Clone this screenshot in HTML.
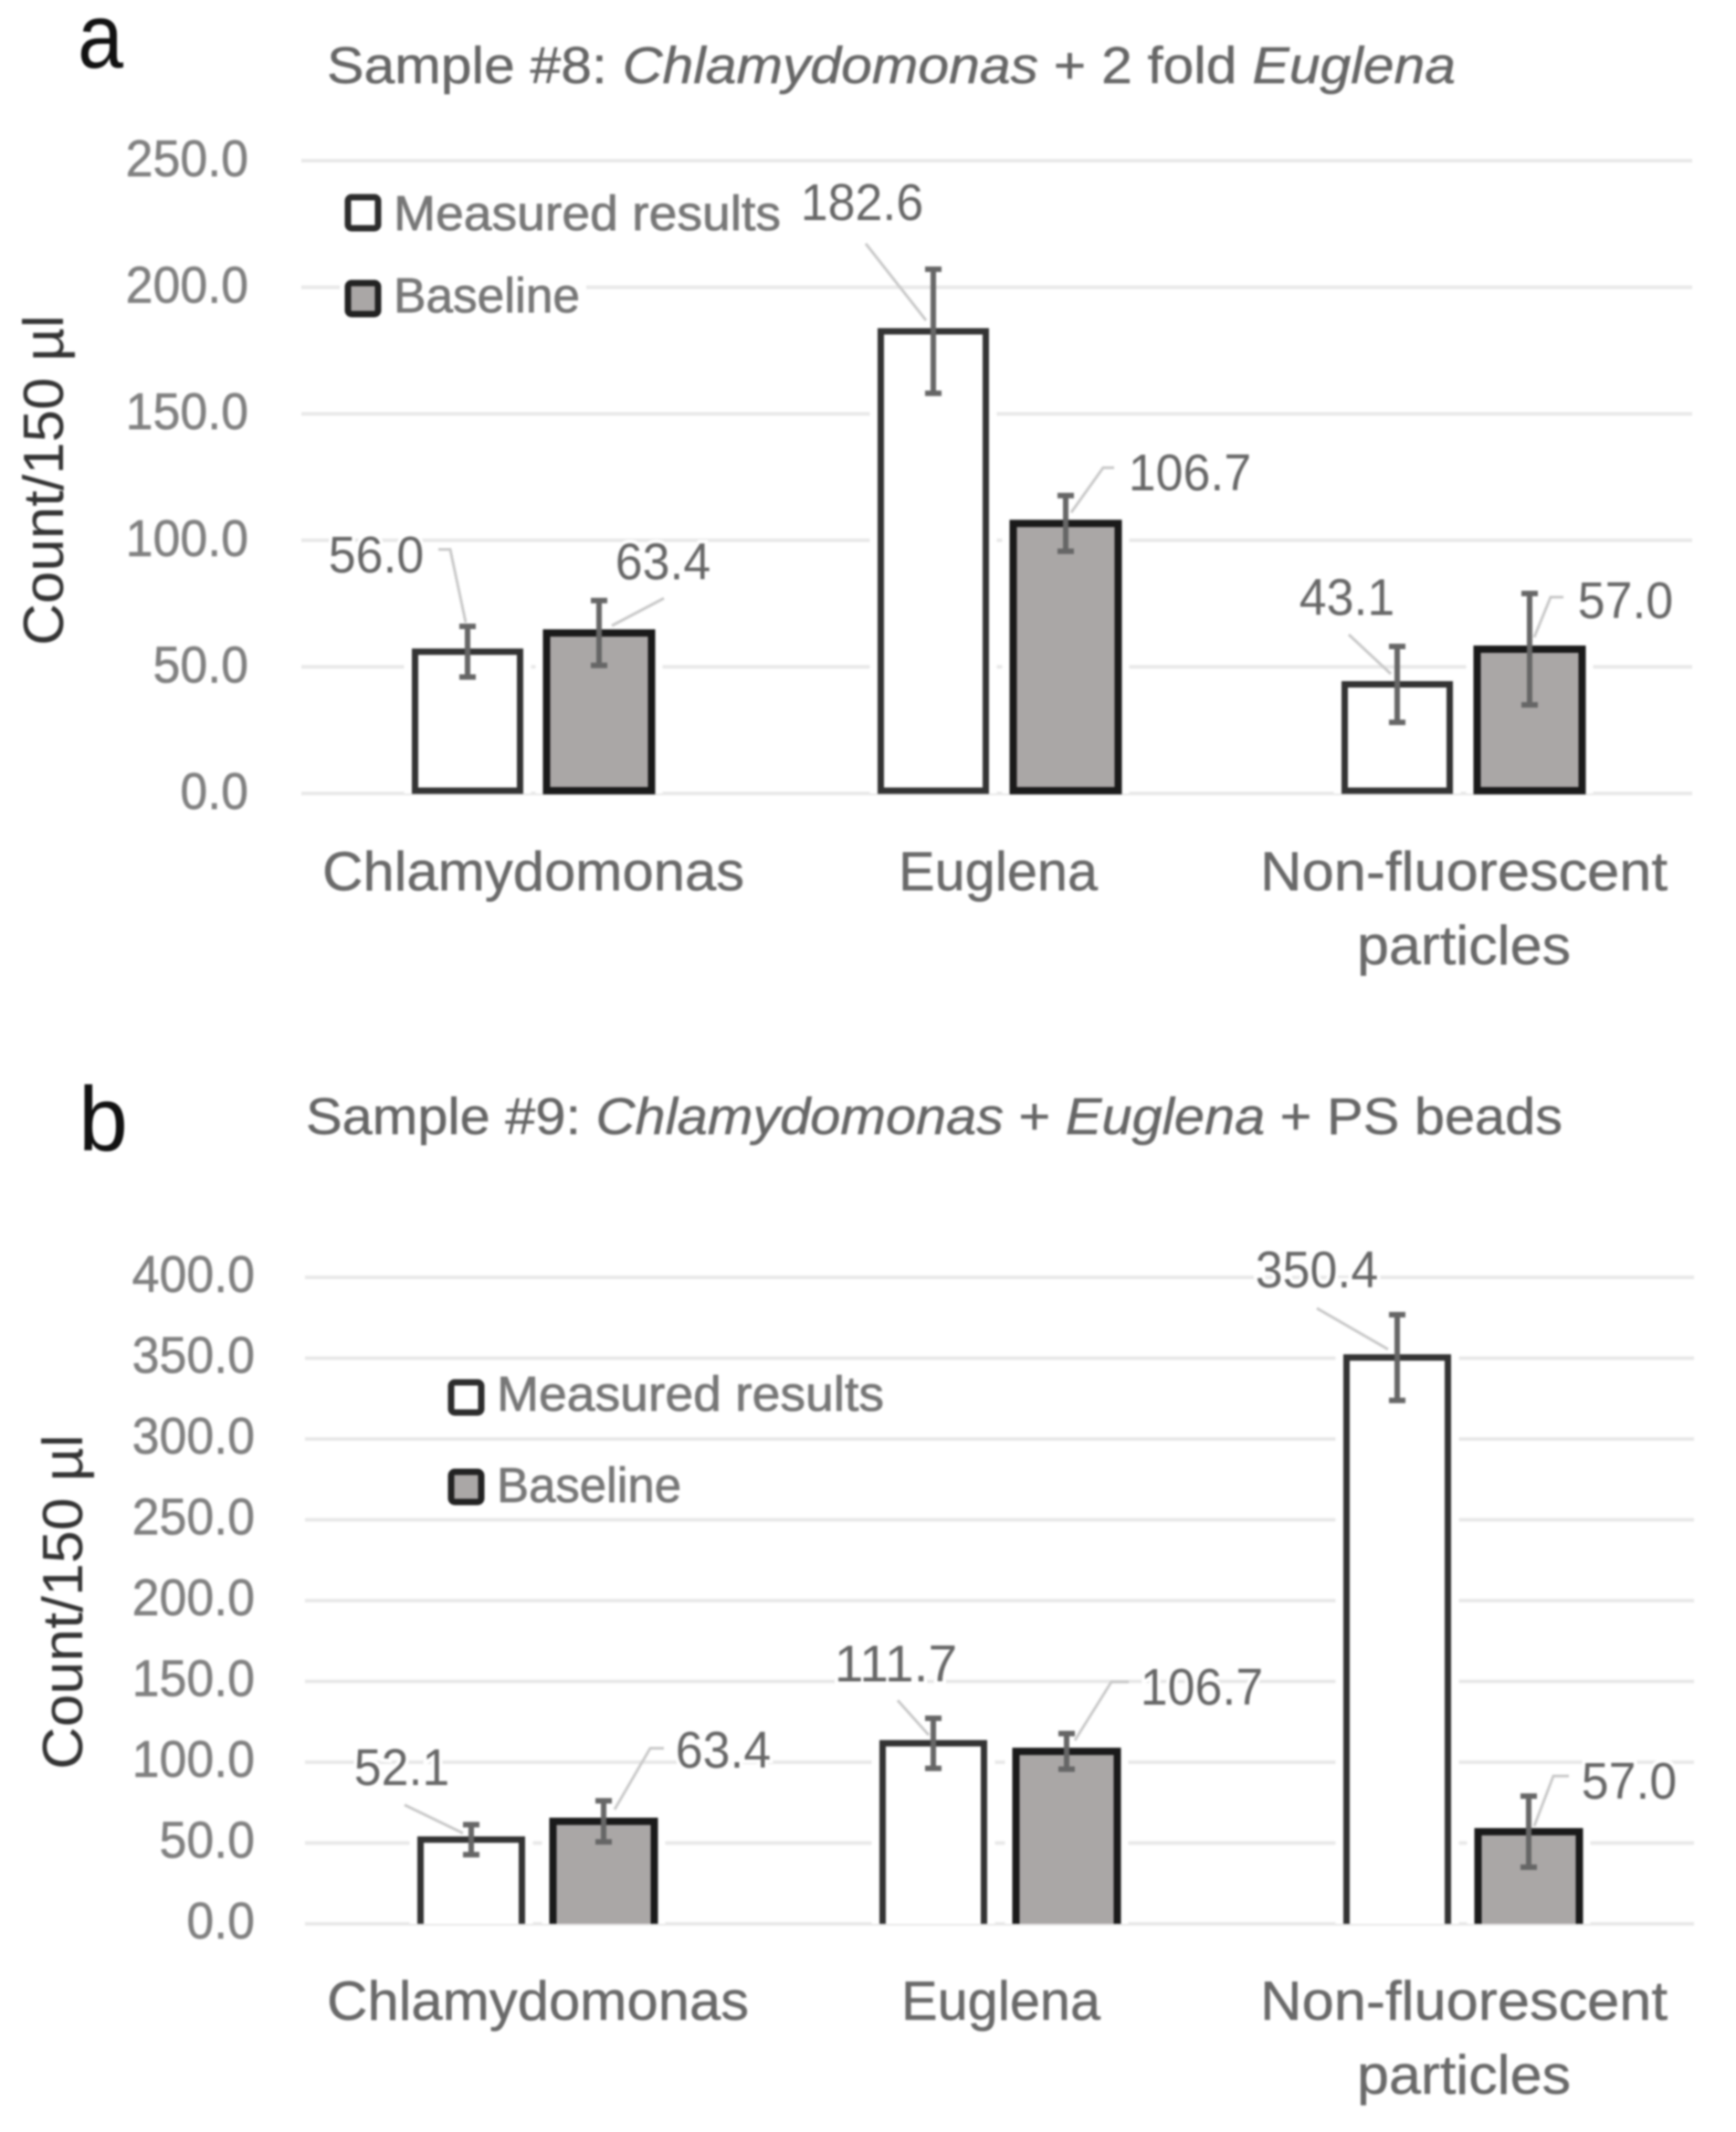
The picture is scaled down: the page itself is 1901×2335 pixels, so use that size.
<!DOCTYPE html>
<html lang="en">
<head>
<meta charset="utf-8">
<title>Sample count charts</title>
<style>
html,body{margin:0;padding:0;background:#fff;}
body{width:1901px;height:2335px;overflow:hidden;}
svg{display:block;filter:blur(1px);font-family:"Liberation Sans",sans-serif;}
.title{font-size:57px;fill:#666;stroke:#666;stroke-width:0.5;}
.legend{font-size:54px;fill:#777;stroke:#777;stroke-width:0.8;}
.axis-title{font-size:62px;fill:#333;}
.letter{font-size:100px;fill:#111;}
</style>
</head>
<body>
<svg id="figure" xmlns="http://www.w3.org/2000/svg" width="1901" height="2335" viewBox="0 0 1901 2335">
  <rect x="0" y="0" width="1901" height="2335" fill="#fff"/>
  <g id="chart-a"></g>
  <g id="chart-b"></g>

  <text class="letter" x="85" y="74" textLength="50" lengthAdjust="spacingAndGlyphs">a</text>
  <text class="title" x="358" y="91" textLength="1236" lengthAdjust="spacingAndGlyphs">Sample #8: <tspan font-style="italic">Chlamydomonas</tspan> + 2 fold <tspan font-style="italic">Euglena</tspan></text>
  <text class="axis-title" transform="translate(69,707) rotate(-90)" textLength="362" lengthAdjust="spacingAndGlyphs">Count/150 µl</text>
  <g>
    <rect x="372" y="296" width="270" height="56" fill="#fff"/>
    <rect x="381" y="216" width="33" height="34" rx="4" fill="#fff" stroke="#2c2c2c" stroke-width="7"/>
    <text class="legend" x="431" y="252" textLength="424" lengthAdjust="spacingAndGlyphs">Measured results</text>
    <rect x="381" y="310" width="33" height="34" rx="4" fill="#aaa7a6" stroke="#222" stroke-width="7"/>
    <text class="legend" x="431" y="342" textLength="204" lengthAdjust="spacingAndGlyphs">Baseline</text>
  </g>

  <text class="letter" x="86" y="1260" textLength="54" lengthAdjust="spacingAndGlyphs">b</text>
  <text class="title" x="335" y="1242" textLength="1376" lengthAdjust="spacingAndGlyphs">Sample #9: <tspan font-style="italic">Chlamydomonas</tspan> + <tspan font-style="italic">Euglena</tspan> + PS beads</text>
  <text class="axis-title" transform="translate(90,1938) rotate(-90)" textLength="367" lengthAdjust="spacingAndGlyphs">Count/150 µl</text>
  <g id="legend-b">
    <rect x="494" y="1514" width="33" height="33" rx="4" fill="#fff" stroke="#2c2c2c" stroke-width="7"/>
    <text class="legend" x="544" y="1545" textLength="424" lengthAdjust="spacingAndGlyphs">Measured results</text>
    <rect x="494" y="1612" width="33" height="33" rx="4" fill="#aaa7a6" stroke="#222" stroke-width="7"/>
    <text class="legend" x="544" y="1645" textLength="202" lengthAdjust="spacingAndGlyphs">Baseline</text>
  </g>
</svg>
<script>
// Chart data
const categories = [["Chlamydomonas"], ["Euglena"], ["Non-fluorescent", "particles"]];

const ticksA = [0, 50, 100, 150, 200, 250];
const measuredA = [56.0, 182.6, 43.1];
const measuredErrA = [10, 24.5, 15];
const baselineA = [63.4, 106.7, 57.0];
const baselineErrA = [12.8, 11, 22];

const ticksB = [0, 50, 100, 150, 200, 250, 300, 350, 400];
const measuredB = [52.1, 111.7, 350.4];
const measuredErrB = [9.3, 15.5, 26.5];
const baselineB = [63.4, 106.7, 57.0];
const baselineErrB = [12.7, 11, 22];

// Layout, separate from the data
const layoutA = {
  y0: 869, yMaxPx: 176, axisMax: 250, gridL: 330, gridR: 1853,
  tickRight: 272, tickDy: 17,
  mCenters: [512, 1022, 1530], bCenters: [656, 1167, 1675],
  barW: 115, closed: true,
  catX: [584, 1093, 1603], catY: 975, catStep: 81,
  catLen: [462, 218, 446], partLen: 234,
  mLabel: [[-100, -87], [-78, -122], [-55, -76]],
  bLabel: [[70, -59], [136, -36], [105, -34]],
  mLeader: [[[-32, -112], [-19, -112], [-2, -32]], [[-74, -96], [-8, -12]], [[-53, -54.5], [-7, -11.5]]],
  bLeader: [[[71, -38], [14, -8]], [[53, -61], [41, -61], [6, -12]], [[37, -57], [23, -57], [5, -13]]]
};
const layoutB = {
  y0: 2107, yMaxPx: 1399, axisMax: 400, gridL: 334, gridR: 1855,
  tickRight: 279, tickDy: 16,
  mCenters: [516, 1022, 1530], bCenters: [661, 1168, 1674],
  barW: 111, closed: false,
  catX: [589, 1096, 1603], catY: 2212, catStep: 81,
  catLen: [462, 218, 446], partLen: 234,
  mLabel: [[-76, -60], [-41, -68], [-88, -77]],
  bLabel: [[131, -59], [148, -51], [110, -36]],
  mLeader: [[[-73, -38], [-9, -7]], [[-39, -47], [-5, -9]], [[-88, -54], [-10, -9]]],
  bLeader: [[[66, -80], [51, -80], [12, -13]], [[68, -76], [49, -76], [9, -12]], [[44, -61], [27, -61], [6, -6]]]
};

const SVGNS = "http://www.w3.org/2000/svg";
function make(parent, tag, attrs, text) {
  const el = document.createElementNS(SVGNS, tag);
  for (const k in attrs) el.setAttribute(k, attrs[k]);
  if (text !== undefined) el.textContent = text;
  parent.appendChild(el);
  return el;
}

// Printed width of a number such as "250.0" in the reference's narrower typeface
function numberWidth(str) {
  return (str.length - 1) * 0.507 * 59 + 0.25 * 59;
}

function drawBar(g, cx, topY, y0, w, fill, strokeCol, strokeW, closed) {
  const x = cx - w / 2;
  const halo = make(g, "rect", { x: x - 12, y: topY - 12, width: w + 24, height: y0 - topY + 12, fill: "#fff" });
  
  
  const fillRect = make(g, "rect", { x: x, y: topY, width: w, height: y0 - topY, fill: fill });
  
  
  const bottom = closed ? y0 - 3 : y0;
  const d = "M" + x + " " + bottom + "V" + topY + "H" + (x + w) + "V" + bottom + (closed ? "Z" : "");
  const outline = make(g, "path", { d: d, fill: "none", stroke: strokeCol, "stroke-width": strokeW, "stroke-linejoin": "miter" });
  
  
}

function drawLeader(g, cx, topY, pts) {
  const points = pts.map(p => (cx + p[0]) + "," + (topY + p[1])).join(" ");
  const line = make(g, "polyline", { points: points, fill: "none", stroke: "#c8c8c8", "stroke-width": 3 });
  
  
}

function drawError(g, cx, yHi, yLo) {
  const e = make(g, "path", {
    d: "M" + cx + " " + yHi + "V" + yLo + "M" + (cx - 9) + " " + yHi + "H" + (cx + 9) + "M" + (cx - 9) + " " + yLo + "H" + (cx + 9),
    fill: "none", stroke: "#666", "stroke-width": 6
  });
  
  
}

function drawValueLabel(g, x, y, value) {
  const str = value.toFixed(1);
  const t = make(g, "text", {
    x: x, y: y, "text-anchor": "middle", "font-size": 57, fill: "#666",
    stroke: "#fff", "stroke-width": 8, "paint-order": "stroke",
    textLength: numberWidth(str), lengthAdjust: "spacingAndGlyphs"
  }, str);
  
  
}

function drawChart(root, L, ticks, measured, measuredErr, baseline, baselineErr) {
  const yScale = v => L.y0 - v * (L.y0 - L.yMaxPx) / L.axisMax;

  ticks.forEach(t => {
    const grid = make(root, "line", { x1: L.gridL, x2: L.gridR, y1: yScale(t), y2: yScale(t), stroke: "#e8e8e8", "stroke-width": 4 });
    
    
    const str = t.toFixed(1);
    const label = make(root, "text", {
      x: L.tickRight, y: yScale(t) + L.tickDy, "text-anchor": "end", "font-size": 57, fill: "#808080",
      stroke: "#808080", "stroke-width": 0.6,
      textLength: numberWidth(str), lengthAdjust: "spacingAndGlyphs"
    }, str);
    
    
  });

  categories.forEach((lines, i) => {
    lines.forEach((line, j) => {
      const len = j === 0 ? L.catLen[i] : L.partLen;
      const cat = make(root, "text", {
        x: L.catX[i], y: L.catY + j * L.catStep, "text-anchor": "middle", "font-size": 60, fill: "#696969",
        stroke: "#696969", "stroke-width": 0.5,
        textLength: len, lengthAdjust: "spacingAndGlyphs"
      }, line);
      
      
    });
  });

  categories.forEach((_, i) => {
    const topM = yScale(measured[i]);
    const topB = yScale(baseline[i]);
    drawBar(root, L.mCenters[i], topM, L.y0, L.barW, "#fff", "#333", 7, L.closed);
    drawBar(root, L.bCenters[i], topB, L.y0, L.barW, "#aaa7a6", "#1a1a1a", 8, L.closed);
  });

  categories.forEach((_, i) => {
    const topM = yScale(measured[i]);
    const topB = yScale(baseline[i]);
    drawLeader(root, L.mCenters[i], topM, L.mLeader[i]);
    drawLeader(root, L.bCenters[i], topB, L.bLeader[i]);
    drawError(root, L.mCenters[i], yScale(measured[i] + measuredErr[i]), yScale(measured[i] - measuredErr[i]));
    drawError(root, L.bCenters[i], yScale(baseline[i] + baselineErr[i]), yScale(baseline[i] - baselineErr[i]));
    drawValueLabel(root, L.mCenters[i] + L.mLabel[i][0], topM + L.mLabel[i][1], measured[i]);
    drawValueLabel(root, L.bCenters[i] + L.bLabel[i][0], topB + L.bLabel[i][1], baseline[i]);
  });
}

drawChart(document.getElementById("chart-a"), layoutA, ticksA, measuredA, measuredErrA, baselineA, baselineErrA);
drawChart(document.getElementById("chart-b"), layoutB, ticksB, measuredB, measuredErrB, baselineB, baselineErrB);
</script>
</body>
</html>
